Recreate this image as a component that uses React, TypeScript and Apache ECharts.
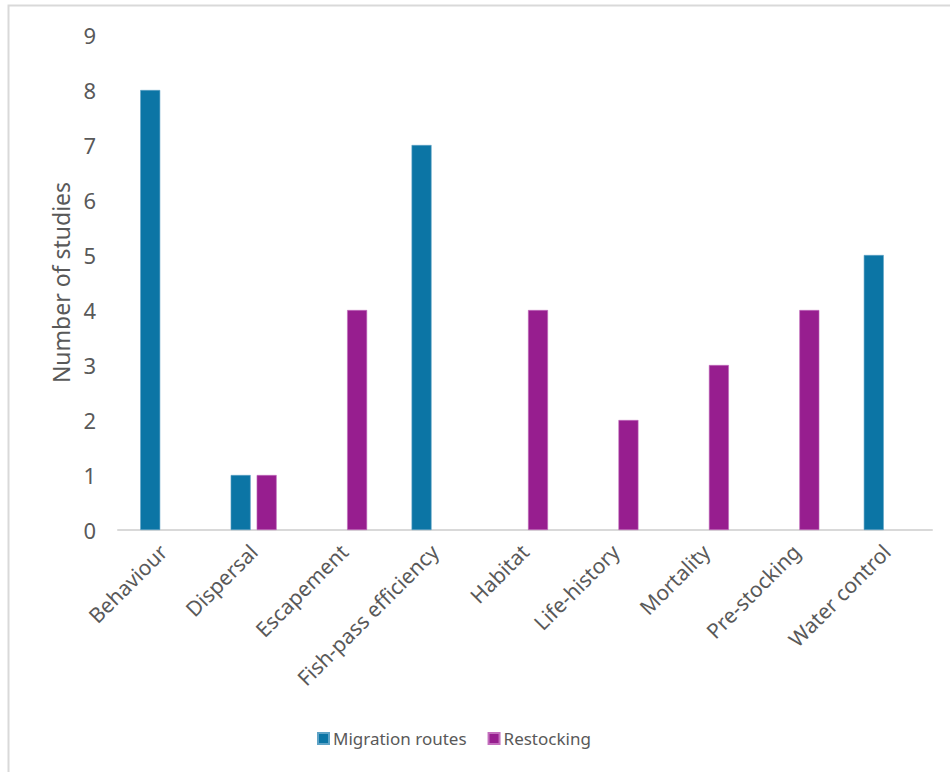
import React, { useEffect, useRef } from "react";
import * as echarts from "echarts";

const categories = [
  "Behaviour",
  "Dispersal",
  "Escapement",
  "Fish-pass efficiency",
  "Habitat",
  "Life-history",
  "Mortality",
  "Pre-stocking",
  "Water control",
];
const migrationRoutes = [8, 1, 0, 7, 0, 0, 0, 0, 5];
const restocking = [0, 1, 4, 0, 4, 2, 3, 4, 0];
const seriesNames = ["Migration routes", "Restocking"];
const yTicks = { min: 0, max: 9, interval: 1 };

const FONT = "'Noto Sans', sans-serif";
const TEXT = "#595959";

export default function App() {
  const ref = useRef<HTMLDivElement>(null);
  useEffect(() => {
    if (!ref.current) return;
    const chart = echarts.init(ref.current, undefined, { renderer: "svg" });
    const toData = (arr: number[]) => arr.map((v) => (v === 0 ? null : v));
    chart.setOption({
      animation: false,
      backgroundColor: "#ffffff",
      textStyle: { fontFamily: FONT, color: TEXT },
      graphic: [
        {
          type: "rect",
          shape: { x: 8.5, y: 5.5, width: 960, height: 800 },
          style: { fill: "none", stroke: "#d9d9d9", lineWidth: 2 },
          silent: true,
        },
      ],
      grid: { left: 118, right: 18, top: 35, bottom: 242, containLabel: false },
      legend: {
        bottom: 20,
        left: 312,
        itemWidth: 11,
        itemHeight: 11,
        itemGap: 21,
        icon: "rect",
        textStyle: { fontFamily: FONT, fontSize: 17, color: TEXT, padding: [0, 0, 0, -1] },
        data: seriesNames,
      },
      xAxis: {
        type: "category",
        data: categories,
        axisLine: { show: true, lineStyle: { color: "#d9d9d9", width: 2 } },
        axisTick: { show: false },
        axisLabel: {
          rotate: 45,
          interval: 0,
          margin: 18,
          fontFamily: FONT,
          fontSize: 21,
          color: TEXT,
        },
      },
      yAxis: {
        type: "value",
        min: yTicks.min,
        max: yTicks.max,
        interval: yTicks.interval,
        name: "Number of studies",
        nameLocation: "middle",
        nameGap: 44,
        nameTextStyle: { fontFamily: FONT, fontSize: 23, color: TEXT },
        axisLine: { show: false },
        axisTick: { show: false },
        splitLine: { show: false },
        axisLabel: { margin: 22, fontFamily: FONT, fontSize: 22, color: TEXT },
      },
      series: [
        {
          name: seriesNames[0],
          type: "bar",
          data: toData(migrationRoutes),
          barWidth: 20,
          barGap: "30%",
          itemStyle: { color: "#0c75a5", borderColor: "#5fa3c6", borderWidth: 0.6 },
        },
        {
          name: seriesNames[1],
          type: "bar",
          data: toData(restocking),
          barWidth: 20,
          barGap: "30%",
          itemStyle: { color: "#971e8f", borderColor: "#c36fbd", borderWidth: 0.6 },
        },
      ],
    });
    return () => chart.dispose();
  }, []);
  return (
    <div
      ref={ref}
      style={{ position: "fixed", left: 0, top: 0, width: 950, height: 772, overflow: "hidden" }}
    />
  );
}
